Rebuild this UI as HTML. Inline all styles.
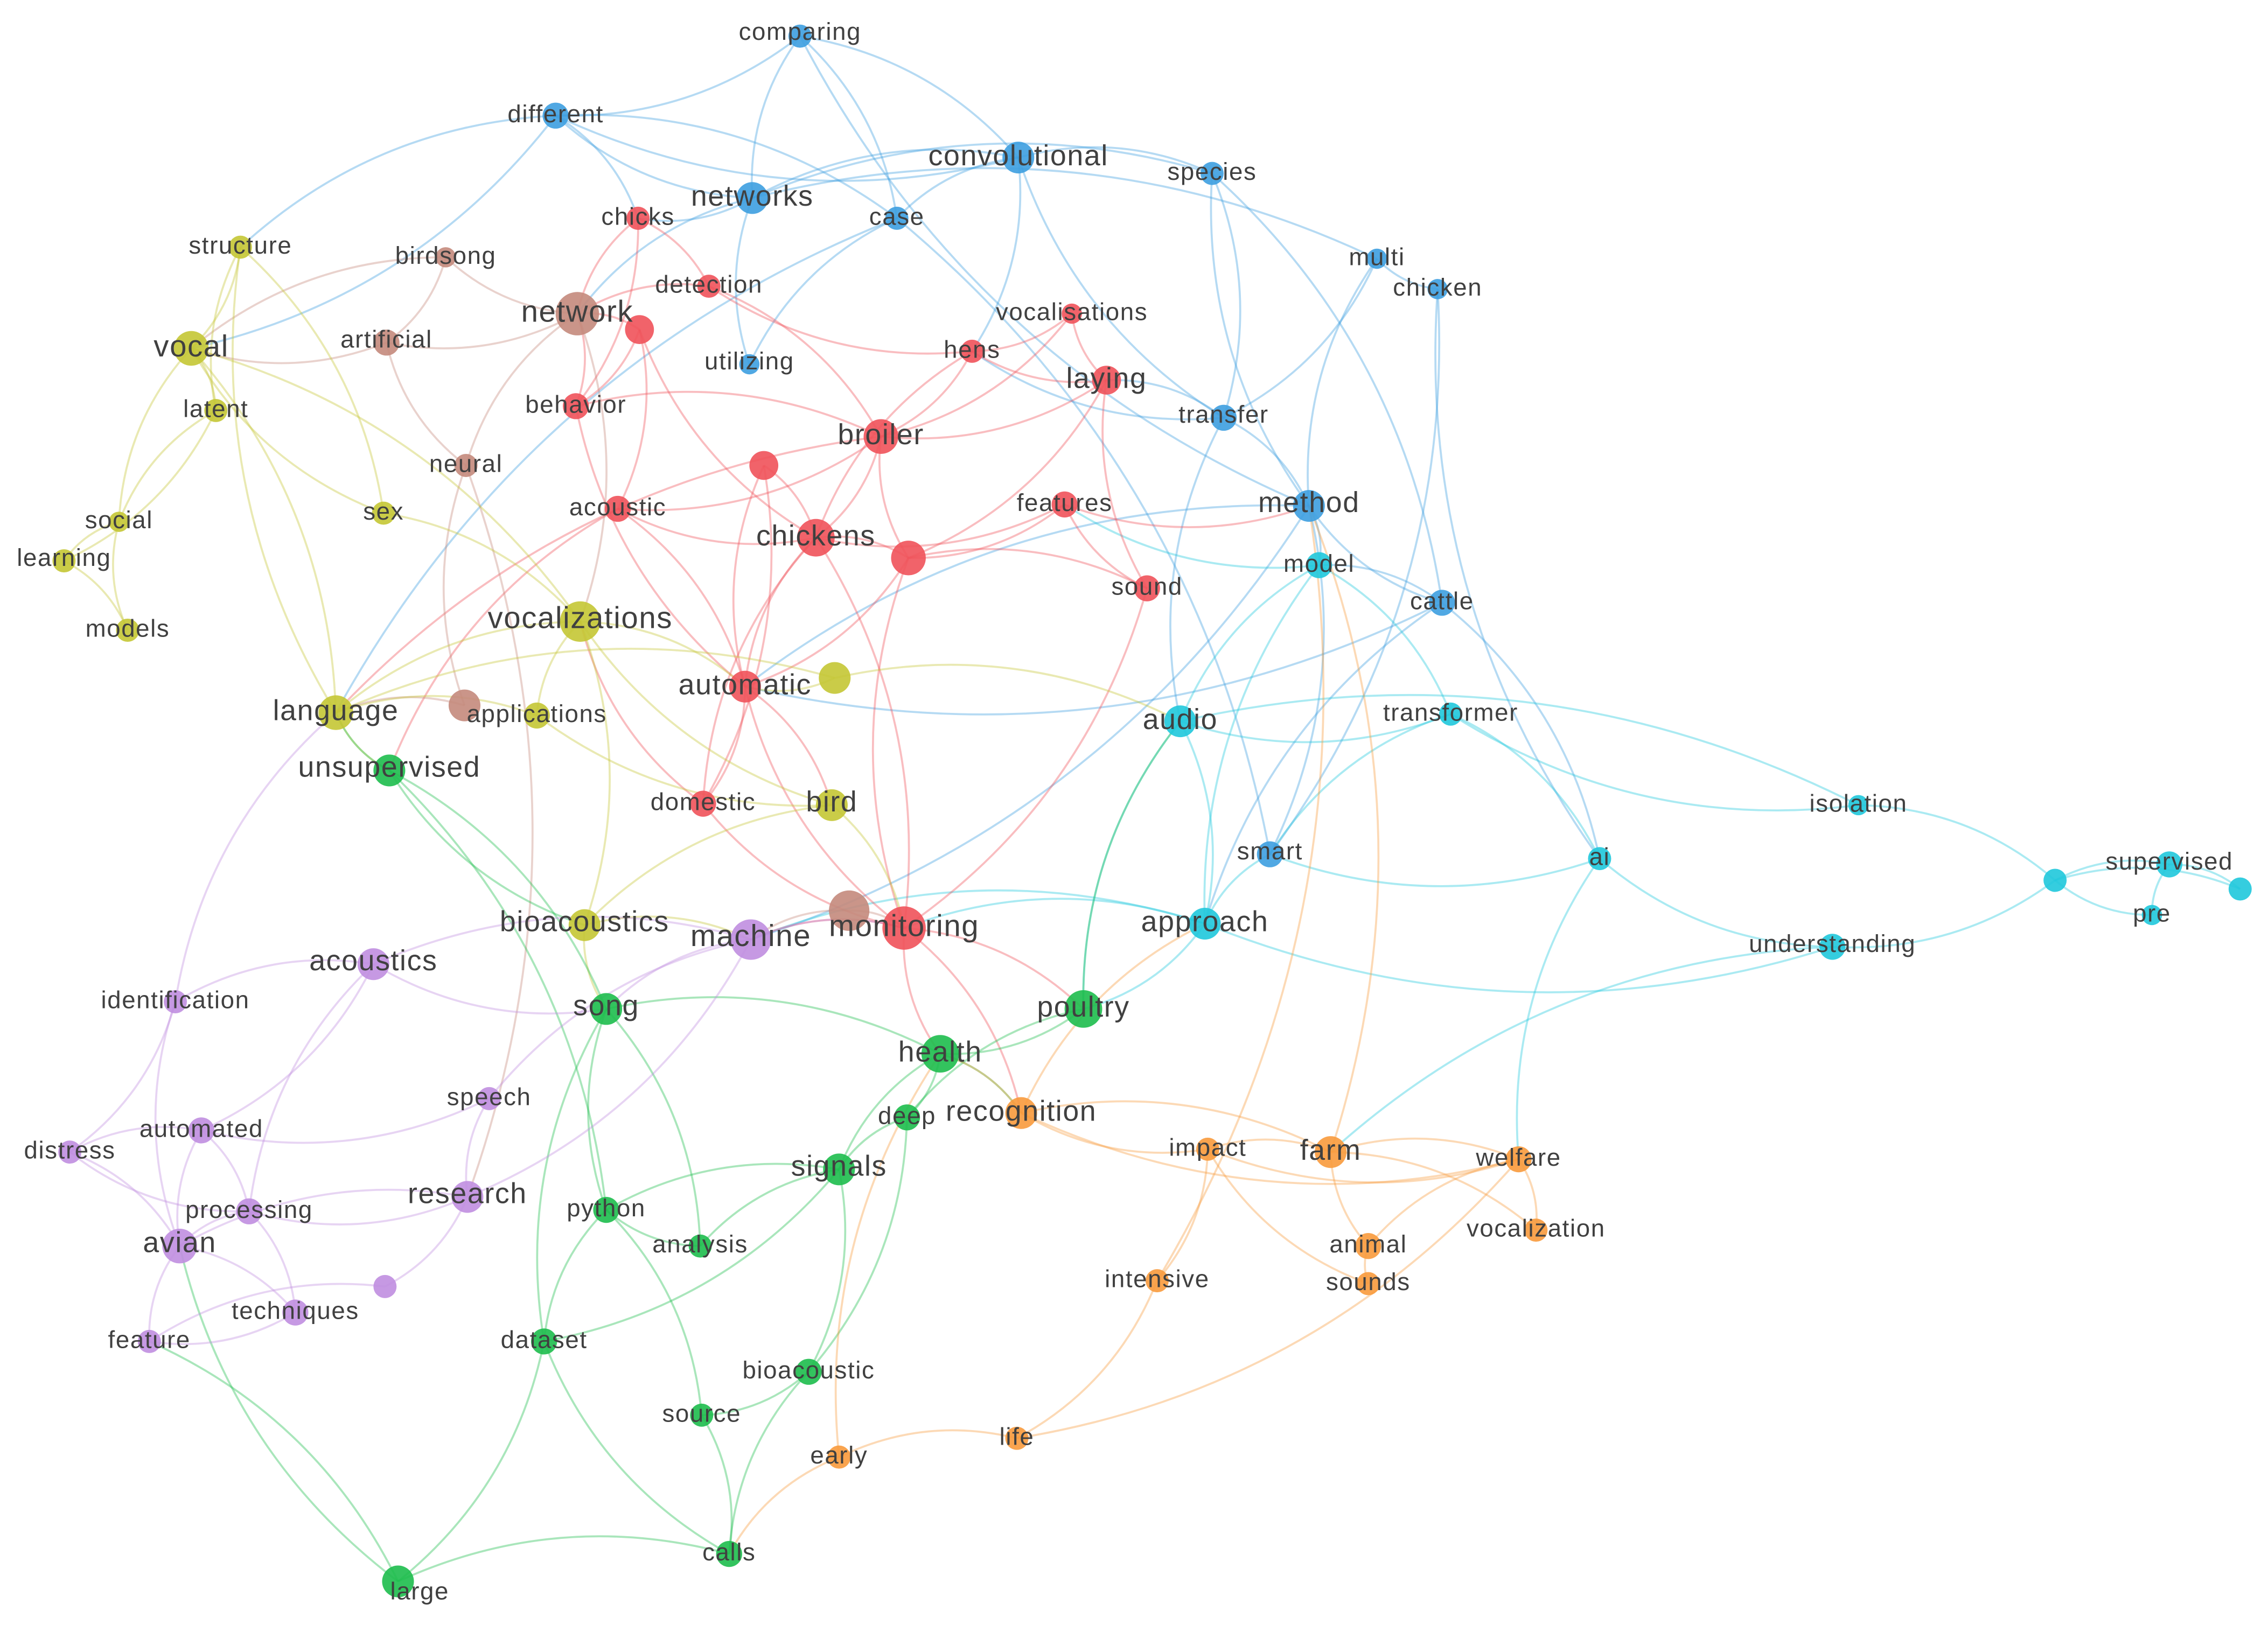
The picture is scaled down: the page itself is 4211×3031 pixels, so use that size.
<!DOCTYPE html>
<html><head><meta charset="utf-8"><style>
html,body{margin:0;padding:0;background:#fff;width:4211px;height:3031px;overflow:hidden}
svg{display:block}
text{font-family:"Liberation Sans",sans-serif;fill:#404040;text-anchor:middle;dominant-baseline:middle;letter-spacing:0.6px}
</style></head><body>
<svg id="s" width="4211" height="3031" viewBox="0 0 1568 1129" xmlns="http://www.w3.org/2000/svg">
<g id="edges" fill="none" stroke-width="1.4" stroke-opacity="0.38"></g>
<g id="nodes"></g>
<g id="labels" font-size="17">
<text x="553" y="23">comparing</text>
<text x="384" y="80">different</text>
<text x="704" y="109" font-size="20">convolutional</text>
<text x="520" y="137" font-size="20">networks</text>
<text x="620" y="151">case</text>
<text x="838" y="120">species</text>
<text x="952" y="179">multi</text>
<text x="994" y="200">chicken</text>
<text x="518" y="251">utilizing</text>
<text x="846" y="288">transfer</text>
<text x="905" y="349" font-size="20">method</text>
<text x="997" y="417">cattle</text>
<text x="878" y="590">smart</text>
<text x="912" y="391">model</text>
<text x="816" y="499" font-size="20">audio</text>
<text x="1003" y="494">transformer</text>
<text x="1285" y="557">isolation</text>
<text x="1106" y="594">ai</text>
<text x="1500" y="597">supervised</text>
<text x="1488" y="633">pre</text>
<text x="1267" y="654">understanding</text>
<text x="833" y="639" font-size="20">approach</text>
<text x="441" y="151">chicks</text>
<text x="490" y="198">detection</text>
<text x="741" y="217">vocalisations</text>
<text x="672" y="243">hens</text>
<text x="765" y="263" font-size="20">laying</text>
<text x="398" y="281">behavior</text>
<text x="609" y="302" font-size="20">broiler</text>
<text x="427" y="352">acoustic</text>
<text x="736" y="349">features</text>
<text x="564" y="372" font-size="20">chickens</text>
<text x="793" y="407">sound</text>
<text x="515" y="475" font-size="20">automatic</text>
<text x="486" y="556">domestic</text>
<text x="625" y="642" font-size="21">monitoring</text>
<text x="308" y="178">birdsong</text>
<text x="399" y="217" font-size="21">network</text>
<text x="267" y="236">artificial</text>
<text x="322" y="322">neural</text>
<text x="166" y="171">structure</text>
<text x="132" y="241" font-size="21">vocal</text>
<text x="149" y="284">latent</text>
<text x="82" y="361">social</text>
<text x="265" y="355">sex</text>
<text x="44" y="387">learning</text>
<text x="88" y="436">models</text>
<text x="401" y="429" font-size="21">vocalizations</text>
<text x="232" y="493" font-size="20">language</text>
<text x="371" y="495">applications</text>
<text x="575" y="556" font-size="20">bird</text>
<text x="404" y="639" font-size="20">bioacoustics</text>
<text x="269" y="532" font-size="20">unsupervised</text>
<text x="419" y="697" font-size="20">song</text>
<text x="650" y="729" font-size="20">health</text>
<text x="749" y="698" font-size="20">poultry</text>
<text x="627" y="773">deep</text>
<text x="580" y="808" font-size="20">signals</text>
<text x="419" y="837">python</text>
<text x="484" y="862">analysis</text>
<text x="376" y="928">dataset</text>
<text x="559" y="949">bioacoustic</text>
<text x="485" y="979">source</text>
<text x="504" y="1075">calls</text>
<text x="290" y="1102">large</text>
<text x="258" y="666" font-size="20">acoustics</text>
<text x="121" y="693">identification</text>
<text x="519" y="649" font-size="21">machine</text>
<text x="338" y="760">speech</text>
<text x="139" y="782">automated</text>
<text x="48" y="797">distress</text>
<text x="323" y="827" font-size="20">research</text>
<text x="172" y="838">processing</text>
<text x="124" y="861" font-size="20">avian</text>
<text x="204" y="908">techniques</text>
<text x="103" y="928">feature</text>
<text x="706" y="770" font-size="20">recognition</text>
<text x="835" y="795">impact</text>
<text x="920" y="797" font-size="20">farm</text>
<text x="1050" y="802">welfare</text>
<text x="946" y="862">animal</text>
<text x="1062" y="851">vocalization</text>
<text x="800" y="886">intensive</text>
<text x="946" y="888">sounds</text>
<text x="580" y="1008">early</text>
<text x="703" y="995">life</text>
</g>
</svg>
<script>
var C={b:"#3d9ee0",c:"#1fc8dc",r:"#f0525a",w:"#c48a7c",y:"#c4c634",g:"#1dbc4c",p:"#c08ee0",o:"#f89a3c"};
var N={
comparing:[553,25,'b',8],different:[384,80,'b',9],convolutional:[704,109,'b',11],networks:[520,137,'b',11],case:[620,151,'b',8],species:[838,120,'b',8],multi:[952,179,'b',7],chicken:[994,200,'b',7],utilizing:[518,252,'b',7],transfer:[846,289,'b',9],method:[905,350,'b',11],cattle:[997,417,'b',9],smart:[878,591,'b',9],
model:[912,391,'c',9],audio:[816,499,'c',11],transformer:[1003,494,'c',8],isolation:[1285,557,'c',7],ai:[1106,594,'c',8],supervised:[1500,598,'c',9],c1:[1421,609,'c',8],c2:[1549,615,'c',8],pre:[1488,633,'c',7],understanding:[1267,655,'c',9],approach:[833,639,'c',11],
chicks:[441,151,'r',8],detection:[490,198,'r',8],r1:[442,228,'r',10],vocalisations:[741,217,'r',7],hens:[672,243,'r',8],laying:[765,263,'r',10],behavior:[398,281,'r',9],broiler:[609,302,'r',12],r2:[528,322,'r',10],acoustic:[427,352,'r',9],features:[736,349,'r',9],chickens:[564,372,'r',13],r3:[628,386,'r',12],sound:[793,407,'r',9],automatic:[515,475,'r',11],domestic:[486,556,'r',9],monitoring:[625,642,'r',15],
birdsong:[308,178,'w',7],network:[399,217,'w',15],artificial:[267,237,'w',9],neural:[322,322,'w',8],w1:[321,488,'w',11],w2:[587,630,'w',14],
structure:[166,171,'y',8],vocal:[132,241,'y',12],latent:[149,284,'y',8],social:[82,361,'y',7],sex:[265,355,'y',8],learning:[44,388,'y',8],models:[88,436,'y',8],vocalizations:[401,430,'y',14],language:[232,493,'y',12],y1:[577,469,'y',11],applications:[371,495,'y',9],bird:[575,557,'y',11],bioacoustics:[404,640,'y',11],
unsupervised:[269,533,'g',11],song:[419,698,'g',11],health:[650,729,'g',13],poultry:[749,698,'g',13],deep:[627,773,'g',9],signals:[580,809,'g',11],python:[419,837,'g',9],analysis:[484,862,'g',8],dataset:[376,928,'g',9],bioacoustic:[559,949,'g',9],source:[485,979,'g',8],calls:[504,1075,'g',9],large:[275,1094,'g',11],
acoustics:[258,667,'p',11],identification:[121,693,'p',8],machine:[519,650,'p',14],speech:[338,760,'p',8],automated:[139,782,'p',9],distress:[48,797,'p',8],research:[323,828,'p',11],processing:[172,838,'p',9],avian:[124,862,'p',12],p1:[266,890,'p',8],techniques:[204,908,'p',9],feature:[103,928,'p',8],
recognition:[706,770,'o',11],impact:[835,795,'o',8],farm:[920,797,'o',11],welfare:[1050,802,'o',9],animal:[946,862,'o',9],vocalization:[1062,851,'o',8],intensive:[800,886,'o',8],sounds:[946,888,'o',8],early:[580,1008,'o',8],life:[703,995,'o',8]};
var E="comparing-different comparing-networks comparing-case comparing-method comparing-convolutional different-networks different-case different-structure different-vocal different-convolutional different-chicks convolutional-networks convolutional-species convolutional-case convolutional-hens convolutional-transfer networks-chicks networks-network networks-species networks-utilizing networks-multi case-utilizing case-smart case-language species-transfer species-method species-cattle multi-chicken multi-transfer multi-method chicken-smart chicken-ai transfer-method transfer-laying transfer-hens transfer-audio method-model method-cattle method-smart method-automatic method-machine cattle-model cattle-ai cattle-approach cattle-automatic model-audio model-transformer model-approach model-features audio-transformer audio-approach audio-poultry audio-isolation transformer-isolation transformer-ai transformer-smart isolation-c1 ai-understanding ai-smart ai-welfare c1-supervised c1-pre c1-c2 supervised-pre supervised-c2 understanding-c1 understanding-approach understanding-farm approach-smart approach-monitoring approach-poultry approach-machine chicks-detection chicks-network chicks-behavior detection-network detection-broiler detection-hens r1-behavior r1-network r1-acoustic r1-chickens vocalisations-hens vocalisations-laying vocalisations-broiler hens-laying hens-broiler hens-chickens laying-broiler laying-sound laying-r3 behavior-network behavior-broiler behavior-automatic broiler-chickens broiler-r3 broiler-acoustic broiler-language r2-chickens r2-automatic r2-domestic acoustic-chickens acoustic-automatic acoustic-unsupervised features-chickens features-sound features-r3 features-method chickens-r3 chickens-automatic chickens-monitoring chickens-domestic r3-automatic r3-monitoring sound-monitoring sound-r3 automatic-domestic automatic-monitoring automatic-bird domestic-monitoring domestic-vocalizations monitoring-health monitoring-poultry monitoring-machine monitoring-recognition birdsong-network birdsong-artificial birdsong-vocal network-artificial network-neural network-vocalizations artificial-neural artificial-vocal neural-w1 neural-research w1-language w2-monitoring w2-machine structure-vocal structure-latent structure-sex structure-language vocal-latent vocal-social vocal-vocalizations vocal-sex vocal-language latent-social latent-learning social-learning learning-models social-models sex-vocalizations vocalizations-language vocalizations-automatic vocalizations-bird vocalizations-bioacoustics vocalizations-applications language-applications language-unsupervised y1-automatic y1-language y1-audio bird-bioacoustics bird-monitoring bioacoustics-song bioacoustics-machine applications-bird unsupervised-song unsupervised-bioacoustics unsupervised-python song-python song-health song-dataset song-analysis health-poultry health-deep health-signals health-recognition poultry-deep poultry-audio deep-signals deep-bioacoustic signals-python signals-dataset signals-analysis signals-bioacoustic python-dataset python-source python-analysis dataset-large dataset-calls bioacoustic-source bioacoustic-calls source-calls calls-large large-avian large-feature unsupervised-language acoustics-identification acoustics-machine acoustics-song acoustics-automated acoustics-processing identification-distress identification-avian identification-language machine-speech machine-research machine-song machine-monitoring speech-research speech-automated automated-distress automated-processing automated-avian distress-avian distress-processing research-processing research-avian research-p1 processing-avian processing-techniques avian-feature avian-techniques p1-feature techniques-feature recognition-impact recognition-farm recognition-health recognition-approach recognition-welfare impact-farm impact-welfare impact-intensive impact-sounds farm-welfare farm-animal farm-vocalization farm-method welfare-vocalization welfare-animal welfare-life animal-sounds intensive-life intensive-method early-life early-calls early-health".split(" ");
var ns="http://www.w3.org/2000/svg",ge=document.getElementById("edges"),gn=document.getElementById("nodes");
E.forEach(function(e,i){var p=e.split("-"),a=N[p[0]],b=N[p[1]];if(!a||!b)return;
var dx=b[0]-a[0],dy=b[1]-a[1],k=(i%2?0.18:-0.18);
var cx=(a[0]+b[0])/2-dy*k,cy=(a[1]+b[1])/2+dx*k;
var el=document.createElementNS(ns,"path");el.setAttribute("d","M"+a[0]+" "+a[1]+"Q"+cx+" "+cy+" "+b[0]+" "+b[1]);el.setAttribute("stroke",C[a[2]]);ge.appendChild(el);});
for(var k in N){var n=N[k],c=document.createElementNS(ns,"circle");c.setAttribute("cx",n[0]);c.setAttribute("cy",n[1]);c.setAttribute("r",n[3]);c.setAttribute("fill",C[n[2]]);c.setAttribute("fill-opacity","0.9");gn.appendChild(c);}
</script>
</body></html>
